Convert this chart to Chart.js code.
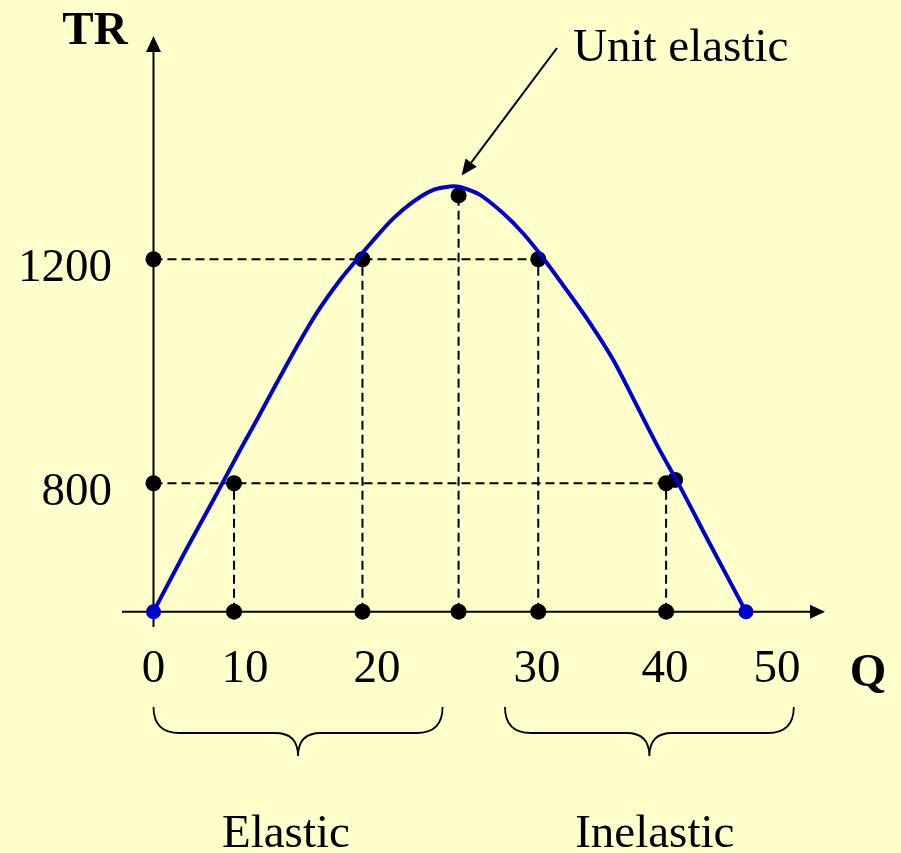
<!DOCTYPE html>
<html>
<head>
<meta charset="utf-8">
<title>TR</title>
<script src="https://cdn.jsdelivr.net/npm/chart.js@4.4.1/dist/chart.umd.min.js"></script>
<style>
  html, body { margin: 0; padding: 0; background: #ffffcc; }
  canvas { display: block; }
</style>
</head>
<body>
<canvas id="chart" width="901" height="853"></canvas>
<script>
// total revenue curve (Q, TR)
const curveQ  = [0, 3.55, 6.54, 9.45, 10.89, 12.4, 13.92, 15.43, 17.2, 18.46, 19.72, 21.02, 22.27, 23.52, 24.56,
                 25.19, 26.44, 27.89, 29.14, 30.49, 32.32, 34.14, 35.96, 37.7, 39.45, 41.34, 44.11, 47.23];
const curveTR = [0, 384, 696, 859, 913, 979, 1044, 1104, 1163, 1199, 1234, 1273, 1303, 1324, 1330,
                 1329, 1315, 1282, 1246, 1202, 1145, 1086, 1020, 943, 865, 779, 409, 0];

// marked quantities and their revenue
const dropQ  = [8.8, 18.9, 25.1, 30.1, 40.1];
const dropTR = [800, 1200, 1314, 1200, 800];

// horizontal guide levels and where they stop
const levelTR   = [800, 1200];
const levelEndQ = [40.9, 30.1];

// stray point next to the Q=40 mark
const extraQ  = [40.9];
const extraTR = [806];

const qTicks  = [0, 10, 20, 30, 40, 50];
const trTicks = [800, 1200];

const regions     = ['Elastic', 'Inelastic'];
const regionFrom  = [0, 28];
const regionTo    = [24.1, 51.5];
const regionTextQ = [13.1, 39.2];

const serif = '"Liberation Serif", "Times New Roman", serif';

// linear scale whose spacing between labelled values is set by hand
class PiecewiseScale extends Chart.LinearScale {
  getPixelForValue(value) {
    if (value === null || value === undefined || isNaN(value)) return NaN;
    const v = this.options.knotValues, at = this.options.knotAt;
    let i = 1;
    while (i < v.length - 1 && value > v[i]) i++;
    const d = at[i - 1] + (value - v[i - 1]) / (v[i] - v[i - 1]) * (at[i] - at[i - 1]);
    return this.getPixelForDecimal(d);
  }
  getValueForPixel(pixel) {
    const v = this.options.knotValues, at = this.options.knotAt;
    const d = this.getDecimalForPixel(pixel);
    let i = 1;
    while (i < at.length - 1 && d > at[i]) i++;
    return v[i - 1] + (d - at[i - 1]) / (at[i] - at[i - 1]) * (v[i] - v[i - 1]);
  }
}
PiecewiseScale.id = 'piecewise';
Chart.register(PiecewiseScale);

function arrow(ctx, fx, fy, tx, ty, len, half) {
  const ang = Math.atan2(ty - fy, tx - fx);
  const c = Math.cos(ang), s = Math.sin(ang);
  const bx = tx - len * c, by = ty - len * s;
  ctx.beginPath();
  ctx.moveTo(fx, fy);
  ctx.lineTo(bx, by);
  ctx.stroke();
  ctx.beginPath();
  ctx.moveTo(tx, ty);
  ctx.lineTo(bx + half * s, by - half * c);
  ctx.lineTo(bx - half * s, by + half * c);
  ctx.closePath();
  ctx.fill();
}

function brace(ctx, x1, x2, top, mid, tip) {
  const xm = (x1 + x2) / 2, r = mid - top, r2 = tip - mid;
  ctx.beginPath();
  ctx.moveTo(x1, top);
  ctx.quadraticCurveTo(x1, mid, x1 + r, mid);
  ctx.lineTo(xm - r2, mid);
  ctx.quadraticCurveTo(xm, mid, xm, tip);
  ctx.quadraticCurveTo(xm, mid, xm + r2, mid);
  ctx.lineTo(x2 - r, mid);
  ctx.quadraticCurveTo(x2, mid, x2, top);
  ctx.stroke();
}

const decor = {
  id: 'decor',
  beforeDatasetsDraw(chart) {
    const { ctx, chartArea: a, scales: { x, y } } = chart;
    const x0 = x.getPixelForValue(0), y0 = y.getPixelForValue(0);
    ctx.save();
    ctx.strokeStyle = ctx.fillStyle = '#000';
    ctx.lineWidth = 2;
    arrow(ctx, a.left, y0, a.right, y0, 15, 7);
    arrow(ctx, x0, a.bottom, x0, a.top, 16, 7.5);
    ctx.restore();
  },
  afterDatasetsDraw(chart) {
    const { ctx, scales: { x, y } } = chart;
    ctx.save();
    ctx.strokeStyle = ctx.fillStyle = '#000';
    ctx.textBaseline = 'alphabetic';

    ctx.font = 'bold 47px ' + serif;
    ctx.textAlign = 'center';
    ctx.fillText('TR', 95, 44);
    ctx.fillText('Q', 868, 686);

    ctx.font = '47px ' + serif;
    ctx.textAlign = 'left';
    ctx.fillText('Unit elastic', 573, 61);
    const ux = x.getPixelForValue(dropQ[2]), uy = y.getPixelForValue(dropTR[2]);
    ctx.lineWidth = 2;
    arrow(ctx, 557, 48, ux + 3, uy - 20, 16, 7);

    ctx.textAlign = 'center';
    ctx.lineWidth = 1.8;
    regions.forEach((name, i) => {
      const x1 = x.getPixelForValue(regionFrom[i]), x2 = x.getPixelForValue(regionTo[i]);
      brace(ctx, x1, x2, 707, 733, 756);
      ctx.fillText(name, x.getPixelForValue(regionTextQ[i]), 847);
    });
    ctx.restore();
  }
};

const pts = (qs, trs) => qs.map((q, i) => ({ x: q, y: trs[i] }));

const dashStyle = {
  borderColor: '#000', borderWidth: 2, borderDash: [9, 5],
  pointRadius: 0, showLine: true, order: 3
};
const guides = [
  ...levelTR.map((tr, i) => ({ ...dashStyle, data: [{ x: 0, y: tr }, { x: levelEndQ[i], y: tr }] })),
  ...dropQ.map((q, i) => ({ ...dashStyle, data: [{ x: q, y: 0 }, { x: q, y: dropTR[i] }] }))
];

const blackDots = [
  ...levelTR.map(tr => ({ x: 0, y: tr })),
  ...dropQ.map(q => ({ x: q, y: 0 })),
  ...pts(dropQ, dropTR),
  ...pts(extraQ, extraTR)
];

const tickFont = { family: serif, size: 47, lineHeight: 1 };

new Chart(document.getElementById('chart'), {
  type: 'scatter',
  data: {
    datasets: [
      {
        data: [{ x: curveQ[0], y: curveTR[0] }, { x: curveQ[curveQ.length - 1], y: curveTR[curveTR.length - 1] }],
        pointRadius: 7.5, pointBackgroundColor: '#0000cc', pointBorderWidth: 0, order: 0
      },
      {
        data: pts(curveQ, curveTR),
        showLine: true, borderColor: '#0000cc', borderWidth: 4,
        tension: 0.3, pointRadius: 0, order: 1
      },
      {
        data: blackDots,
        pointRadius: 8, pointBackgroundColor: '#000', pointBorderWidth: 0, order: 2
      },
      ...guides
    ]
  },
  options: {
    responsive: false,
    animation: false,
    events: [],
    layout: { padding: { top: 36, right: 76, left: 0, bottom: 0 } },
    plugins: { legend: { display: false }, tooltip: { enabled: false } },
    scales: {
      x: {
        type: 'piecewise',
        min: -2, max: 55,
        knotValues: qTicks,
        knotAt: [0.0448, 0.1750, 0.3627, 0.5903, 0.7724, 0.9317],
        grid: { display: false, drawTicks: false },
        border: { display: false },
        afterBuildTicks: s => { s.ticks = qTicks.map(v => ({ value: v })); },
        afterFit: s => { s.height = 226; },
        ticks: {
          autoSkip: false, maxRotation: 0, minRotation: 0, padding: 19,
          color: '#000', font: tickFont, callback: v => String(v)
        }
      },
      y: {
        type: 'piecewise',
        min: -50, max: 1600,
        knotValues: [0, 800, 1200],
        knotAt: [0.0259, 0.2432, 0.6222],
        grid: { display: false, drawTicks: false },
        border: { display: false },
        afterBuildTicks: s => { s.ticks = trTicks.map(v => ({ value: v })); },
        afterFit: s => { s.width = 122; },
        ticks: {
          autoSkip: false, padding: 10, labelOffset: 9,
          color: '#000', font: tickFont, callback: v => String(v)
        }
      }
    }
  },
  plugins: [decor]
});
</script>
</body>
</html>
